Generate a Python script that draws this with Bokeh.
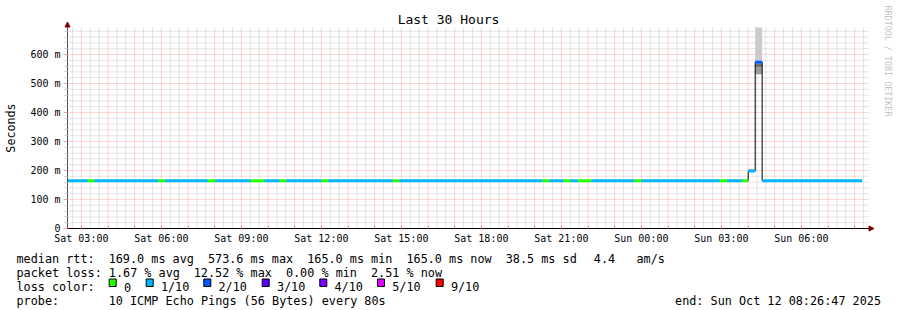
import math
import re
from bokeh.plotting import figure
from bokeh.models import Range1d, FixedTicker, Label, BoxAnnotation, Arrow, NormalHead
from bokeh.embed import file_html
from bokeh.resources import INLINE

MONO = "DejaVu Sans Mono"

# ---------------- data ----------------
# time is expressed in hours since Sat 00:00; the graph spans the last 30 hours
window_start_h = 2.48
window_end_h = 32.48

# consolidated median RTT, as runs of equal value / equal loss
seg_edges_h = [2.48, 3.241, 3.492, 5.892, 6.155, 7.741, 8.03, 9.342, 9.867,
               10.441, 10.692, 12.005, 12.256, 14.667, 14.93, 20.292, 20.555,
               21.091, 21.342, 21.616, 22.13, 23.742, 24.005, 26.941, 27.219,
               27.766, 28.006, 28.268, 28.53, 32.28]
median_ms = [165.0] * 26 + [198.0, 573.6, 165.0]
loss_tenths = [1, 0, 1, 0, 1, 0, 1, 0, 1, 0, 1, 0, 1, 0, 1, 0, 1, 0, 1, 0,
               1, 0, 1, 0, 1, 0, 1, 2, 1]

# smoke (spread of the individual pings) where it is visible
smoke_start_h = [28.006, 28.268, 28.268, 28.268]
smoke_end_h = [28.268, 28.53, 28.53, 28.53]
smoke_low_ms = [198.0, 573.6, 555.0, 532.0]
smoke_high_ms = [206.0, 693.0, 568.0, 555.0]
smoke_band = [0, 0, 2, 1]          # 0 = outer pings ... 2 = inner pings

x_tick_hours = [3, 6, 9, 12, 15, 18, 21, 24, 27, 30]
x_tick_labels = ["Sat 03:00", "Sat 06:00", "Sat 09:00", "Sat 12:00", "Sat 15:00",
                 "Sat 18:00", "Sat 21:00", "Sun 00:00", "Sun 03:00", "Sun 06:00"]
y_tick_ms = [0, 100, 200, 300, 400, 500, 600]
y_tick_labels = ["0", "100 m", "200 m", "300 m", "400 m", "500 m", "600 m"]
y_max_ms = 693.0

loss_level_tenths = [0, 1, 2, 3, 4, 5, 9]
loss_level_labels = ["0", "1/10", "2/10", "3/10", "4/10", "5/10", "9/10"]
loss_level_colors = ["#26ff00", "#00b8ff", "#0059ff", "#5e00ff", "#7e00ff", "#dd00ff", "#ff0000"]

stat_rtt = "median rtt:  169.0 ms avg  573.6 ms max  165.0 ms min  165.0 ms now  38.5 ms sd"
stat_rtt_tail = ["4.4", "am/s"]
stat_loss = "packet loss: 1.67 % avg  12.52 % max  0.00 % min  2.51 % now"
stat_probe = "probe:       10 ICMP Echo Pings (56 Bytes) every 80s"
loss_title = "loss color:"
end_text = "end: Sun Oct 12 08:26:47 2025"
title_text = "Last 30 Hours"
y_title = "Seconds"
credit = "RRDTOOL / TOBI OETIKER"

# ---------------- layout / styles ----------------
W, H = 897, 310
PLOT_L, PLOT_R, PLOT_T, PLOT_B = 67, 867, 27, 228      # canvas pixels of the graph area
px_per_h = (PLOT_R - PLOT_L) / (window_end_h - window_start_h)
px_per_ms = (PLOT_B - PLOT_T) / y_max_ms
x0_full = window_start_h - PLOT_L / px_per_h
x1_full = x0_full + W / px_per_h
y0_full = -(H - PLOT_B) / px_per_ms
y1_full = PLOT_B / px_per_ms
CHAR_W = 7.09          # advance of the 11.8px monospace legend font
LEG_X = 16

smoke_shades = ["#cbcbcb", "#9c9c9c", "#717171"]
MGRID = "#ff0000"
GRID = "#9a9a9a"

# the frame covers the whole canvas so that no text is clipped; axes are pinned
p = figure(width=W, height=H, output_backend="svg", toolbar_location=None,
           x_range=Range1d(x0_full, x1_full), y_range=Range1d(y0_full, y1_full),
           min_border=0, min_border_left=0, min_border_right=0, min_border_top=0, min_border_bottom=0,
           background_fill_color="white", border_fill_color="white", outline_line_color=None)
p.xgrid.visible = False
p.ygrid.visible = False

hourly = list(range(3, 33))
minor20 = [k / 3 for k in range(8, 98) if k % 3 != 0]
ymin = [v for v in range(20, 693, 20) if v % 100 != 0]

# grid lines, limited to the graph area
x_grid_end = window_end_h + 1 / px_per_h
p.segment(x0=minor20, x1=minor20, y0=0, y1=y_max_ms, line_color=GRID, line_alpha=0.5, line_dash="1 1")
p.segment(x0=window_start_h, x1=x_grid_end, y0=ymin, y1=ymin, line_color=GRID, line_alpha=0.5, line_dash="1 1")
p.segment(x0=hourly, x1=hourly, y0=0, y1=y_max_ms, line_color=MGRID, line_alpha=0.33, line_dash="1 1")
p.segment(x0=window_start_h, x1=x_grid_end, y0=y_tick_ms[1:], y1=y_tick_ms[1:],
          line_color=MGRID, line_alpha=0.33, line_dash="1 1")

# axes pinned to the graph area
xa = p.xaxis[0]
xa.fixed_location = 0
xa.bounds = (window_start_h, x_grid_end)
xa.ticker = FixedTicker(ticks=x_tick_hours, minor_ticks=hourly)
xa.major_label_overrides = dict(zip(x_tick_hours, x_tick_labels))
xa.axis_line_color = "black"
xa.major_tick_in = 3
xa.major_tick_out = 0
xa.minor_tick_in = 3
xa.minor_tick_out = 0
xa.major_tick_line_color = "#f08a8a"
xa.minor_tick_line_color = "#f08a8a"
xa.major_label_standoff = 4
xa.major_label_text_font = MONO
xa.major_label_text_font_size = "10px"
xa.major_label_text_color = "black"

ya = p.yaxis[0]
ya.fixed_location = window_start_h
ya.bounds = (0, y_max_ms)
ya.ticker = FixedTicker(ticks=y_tick_ms, minor_ticks=ymin)
ya.major_label_overrides = dict(zip(y_tick_ms, y_tick_labels))
ya.axis_line_color = "#505050"
ya.major_tick_in = 0
ya.major_tick_out = 4
ya.minor_tick_in = 0
ya.minor_tick_out = 3
ya.major_tick_line_color = "#f4a0a0"
ya.minor_tick_line_color = "#d0d0d0"
ya.major_label_standoff = 3
ya.major_label_text_font = MONO
ya.major_label_text_font_size = "10px"
ya.major_label_text_color = "black"

# smoke
p.quad(left=smoke_start_h, right=smoke_end_h, bottom=smoke_low_ms, top=smoke_high_ms,
       fill_color=[smoke_shades[b] for b in smoke_band], line_color=None)

# median as a black step line
xs, ys = [], []
for i, m in enumerate(median_ms):
    xs += [seg_edges_h[i], seg_edges_h[i + 1]]
    ys += [m, m]
p.line(xs, ys, line_color="black", line_width=1)

# loss-coloured median segments
cmap = dict(zip(loss_level_tenths, loss_level_colors))
p.segment(x0=seg_edges_h[:-1], x1=seg_edges_h[1:], y0=median_ms, y1=median_ms,
          line_color=[cmap[l] for l in loss_tenths], line_width=3)


def lab(text, x, y, size="11.8px", align="left", baseline="alphabetic", angle=0.0, color="black"):
    p.add_layout(Label(x=x, y=y, x_units="canvas", y_units="canvas", text=text,
                       text_font=MONO, text_font_size=size, text_align=align,
                       text_baseline=baseline, angle=angle, text_color=color))


def text_row(line, y):
    # monospace columns: each run of words keeps its character column
    for m in re.finditer(r"\S+(?: \S+)*", line):
        lab(m.group(0), LEG_X + m.start() * CHAR_W, y)


lab(title_text, 448, 19, size="13px", align="center", baseline="middle")
lab(y_title, 10.5, 127.5, size="11.7px", align="center", baseline="middle", angle=math.pi / 2)
lab(credit, 887, 5, size="8.4px", align="left", baseline="middle", angle=-math.pi / 2, color="#c4c4c4")
text_row(stat_rtt, 258.3)
lab(stat_rtt_tail[0], 593.3, 258.3)
lab(stat_rtt_tail[1], 636.0, 258.3)
text_row(stat_loss, 272.3)
text_row(loss_title, 286.5)
text_row(stat_probe, 300)
lab(end_text, 880.5, 300, align="right")

sq_left = [108.7, 145.7, 203.3, 261.7, 319.3, 377.0, 435.7]
for i, lbl in enumerate(loss_level_labels):
    lab(lbl, sq_left[i] + 14.7, 286.5)
for i, col in enumerate(loss_level_colors):
    x0 = sq_left[i]
    p.add_layout(BoxAnnotation(left=x0, right=x0 + 7, top=278.5, bottom=286,
                               left_units="canvas", right_units="canvas",
                               top_units="canvas", bottom_units="canvas",
                               fill_color=col, fill_alpha=1.0, line_color="black",
                               line_width=1, line_alpha=1.0))

# axis arrows
AR = "#7f0000"
p.add_layout(Arrow(x_start=PLOT_L, y_start=PLOT_T, x_end=PLOT_L, y_end=21.5,
                   start_units="canvas", end_units="canvas", line_color="#505050", line_width=1,
                   end=NormalHead(size=5, fill_color=AR, line_color=AR)))
p.add_layout(Arrow(x_start=PLOT_R, y_start=PLOT_B, x_end=873.5, y_end=PLOT_B,
                   start_units="canvas", end_units="canvas", line_color="black", line_width=1,
                   end=NormalHead(size=5, fill_color=AR, line_color=AR)))

open("out.html", "w").write(file_html(p, INLINE))
